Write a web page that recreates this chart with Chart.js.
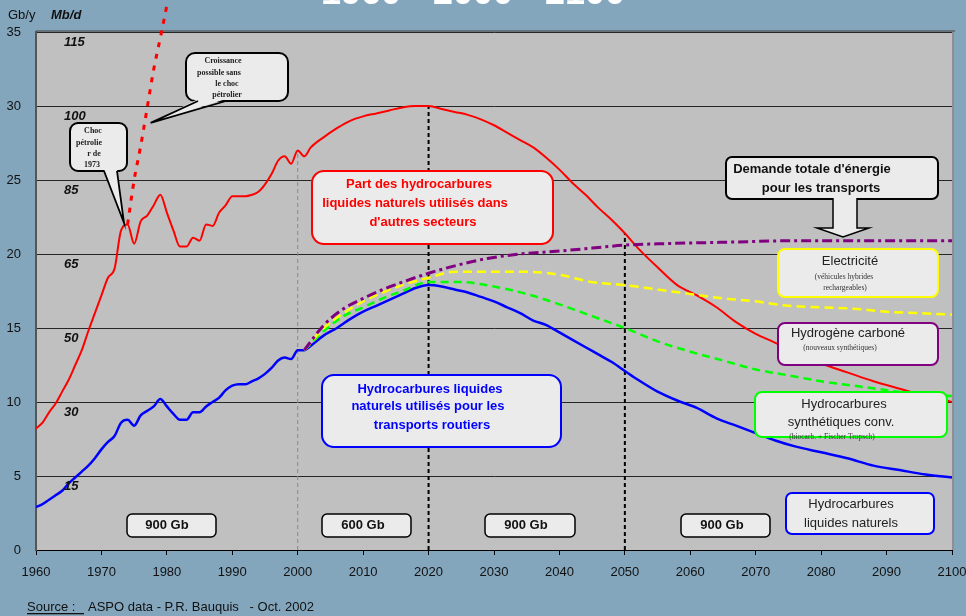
<!DOCTYPE html>
<html>
<head>
<meta charset="utf-8">
<script src="https://cdn.jsdelivr.net/npm/chart.js@4.4.0/dist/chart.umd.min.js"></script>
<style>
  html, body { margin: 0; padding: 0; background: #83a6bd; }
  canvas { display: block; }
</style>
</head>
<body>
<canvas id="chart" width="966" height="616"></canvas>
<script>
// Data (Gb per year)
const redYears = [1960,1961,1962,1963,1964,1965,1966,1967,1968,1969,1970,1971,1972,1973,1974,1975,1976,1977,1978,1979,
  1980,1981,1982,1983,1984,1985,1986,1987,1988,1989,1990,1991,1992,1993,1994,1995,1996,1997,1998,1999,2000,2001,
  2002,2004,2006,2008,2010,2012,2014,2016,2018,2020,2022,2024,2026,2028,2030,2032,2034,2036,2038,2040,2042,2044,
  2046,2048,2050,2052,2055,2058,2061,2064,2067,2070,2073,2076,2080,2084,2088,2092,2096,2100];
const redValues = [8.2,8.6,9.3,9.9,10.7,11.5,12.5,13.5,14.8,16.0,17.2,18.4,19.0,21.6,22.0,20.7,22.2,22.6,23.3,24.0,
  22.8,21.6,20.5,20.5,21.1,20.9,22.0,21.9,22.8,23.3,23.9,23.9,23.9,24.0,24.2,24.7,25.4,26.3,26.6,26.1,27.0,26.6,
  27.2,27.9,28.5,29.0,29.3,29.5,29.7,29.9,30.0,30.0,29.8,29.6,29.4,29.1,28.7,28.2,27.7,27.2,26.5,25.7,24.8,24.0,
  23.1,22.3,21.4,20.4,19.1,17.9,17.2,16.4,15.4,14.6,14.0,13.3,12.6,12.0,11.4,10.9,10.4,10.0];

const blueYears = [1960,1961,1962,1963,1964,1965,1966,1967,1968,1969,1970,1971,1972,1973,1974,1975,1976,1977,1978,1979,
  1980,1981,1982,1983,1984,1985,1986,1987,1988,1989,1990,1991,1992,1993,1994,1995,1996,1997,1998,1999,2000,2001,
  2002,2004,2006,2008,2010,2012,2014,2016,2018,2020,2022,2024,2026,2028,2030,2032,2034,2036,2038,2040,2042,2044,
  2046,2048,2050,2052,2055,2058,2061,2064,2067,2070,2073,2076,2080,2084,2088,2092,2096,2100];
const blueValues = [2.9,3.1,3.4,3.7,4.0,4.5,4.9,5.3,5.7,6.2,6.8,7.3,7.7,8.6,8.8,8.4,9.1,9.4,9.7,10.2,
  9.7,9.2,8.8,8.8,9.3,9.3,9.7,10.0,10.3,10.8,11.1,11.2,11.2,11.4,11.6,11.9,12.3,12.8,13.0,12.9,13.5,13.5,
  13.8,14.5,15.0,15.6,16.1,16.5,16.9,17.3,17.7,17.9,17.8,17.6,17.4,17.1,16.8,16.4,16.0,15.5,15.2,14.7,14.2,13.7,
  13.2,12.7,12.1,11.5,10.7,10.1,9.6,8.9,8.4,7.9,7.4,7.0,6.6,6.2,5.7,5.4,5.1,4.9];

const greenYears = [2001,2004,2007,2010,2013,2016,2020,2025,2030,2035,2040,2045,2050,2055,2060,2065,2070,2075,2080,2085,2090,2095,2100];
const greenValues = [13.5,14.8,15.8,16.4,17.0,17.5,18.1,18.1,17.8,17.3,16.6,15.8,15.0,14.1,13.4,12.8,12.2,11.8,11.4,11.1,10.8,10.5,10.4];

const yellowYears = [2001,2004,2007,2010,2013,2016,2020,2024,2030,2035,2040,2045,2050,2055,2060,2065,2070,2075,2080,2085,2090,2095,2100];
const yellowValues = [13.5,15.0,16.0,16.8,17.4,17.9,18.4,18.8,18.8,18.8,18.6,18.1,17.9,17.6,17.3,17.0,16.8,16.5,16.4,16.3,16.1,16.0,15.9];

const purpleYears = [2001,2004,2007,2010,2013,2016,2020,2024,2029,2034,2040,2045,2050,2056,2066,2076,2100];
const purpleValues = [13.5,15.2,16.3,17.0,17.6,18.1,18.7,19.2,19.7,20.0,20.2,20.4,20.6,20.7,20.8,20.9,20.9];

// "Croissance possible sans le choc pétrolier"
const growthYears = [1974,1975,1976,1977,1978,1979,1980];
const growthValues = [22.0,25.0,27.3,29.9,32.5,34.6,36.8];

const markerYears = [2000, 2020, 2050];
const mbdLabels = ['115','100','85','65','50','30','15'];
const mbdAtGb = [35,30,25,20,15,10,5];

const SANS = "'Liberation Sans', Arial, sans-serif";
const SERIF = "'Liberation Serif', 'Times New Roman', serif";

Chart.defaults.font.family = SANS;
Chart.defaults.font.size = 13;
Chart.defaults.color = '#111';

function pts(xs, ys) {
  return xs.map((x, i) => ({ x: x, y: ys[i] }));
}

function valueAt(xs, ys, yr) {
  for (let i = 1; i < xs.length; i++) {
    if (yr <= xs[i]) {
      const t = (yr - xs[i - 1]) / (xs[i] - xs[i - 1]);
      return ys[i - 1] + t * (ys[i] - ys[i - 1]);
    }
  }
  return ys[ys.length - 1];
}

function roundRect(ctx, x, y, w, h, r) {
  ctx.beginPath();
  ctx.moveTo(x + r, y);
  ctx.arcTo(x + w, y, x + w, y + h, r);
  ctx.arcTo(x + w, y + h, x, y + h, r);
  ctx.arcTo(x, y + h, x, y, r);
  ctx.arcTo(x, y, x + w, y, r);
  ctx.closePath();
}

function text(ctx, s, cx, cy, font, color) {
  ctx.font = font;
  ctx.fillStyle = color;
  ctx.textAlign = 'center';
  ctx.textBaseline = 'middle';
  ctx.fillText(s, cx, cy);
}

// annotation boxes (layout only)
const BOX_FILL = '#ebebeb';
const boxes = [
  { x: 312, y: 171, w: 241, h: 73, r: 12, border: '#ff0000', lw: 2, lines: [
    ['Part des hydrocarbures', 419, 184, 'bold 13px ' + SANS, '#ff0000'],
    ['liquides naturels utilisés dans', 415, 203, 'bold 13px ' + SANS, '#ff0000'],
    ["d'autres secteurs", 423, 222, 'bold 13px ' + SANS, '#ff0000']] },
  { x: 322, y: 375, w: 239, h: 72, r: 12, border: '#0000ff', lw: 2, lines: [
    ['Hydrocarbures liquides', 430, 389, 'bold 13px ' + SANS, '#0000ff'],
    ['naturels utilisés pour les', 428, 406, 'bold 13px ' + SANS, '#0000ff'],
    ['transports routiers', 432, 425, 'bold 13px ' + SANS, '#0000ff']] },
  { x: 726, y: 157, w: 212, h: 42, r: 6, border: '#000', lw: 2, lines: [
    ["Demande totale d'énergie", 812, 169, 'bold 13px ' + SANS, '#111'],
    ['pour les transports', 821, 188, 'bold 13px ' + SANS, '#111']] },
  { x: 778, y: 249, w: 160, h: 48, r: 7, border: '#ffff00', lw: 2, lines: [
    ['Electricité', 850, 261, '13px ' + SANS, '#222'],
    ['(véhicules hybrides', 844, 277, '7.5px ' + SERIF, '#333'],
    ['rechargeables)', 845, 288, '7.5px ' + SERIF, '#333']] },
  { x: 778, y: 323, w: 160, h: 42, r: 7, border: '#800080', lw: 2, lines: [
    ['Hydrogène carboné', 848, 333, '13px ' + SANS, '#222'],
    ['(nouveaux synthétiques)', 840, 348, '7.5px ' + SERIF, '#333']] },
  { x: 755, y: 392, w: 192, h: 45, r: 7, border: '#00ff00', lw: 2, lines: [
    ['Hydrocarbures', 844, 404, '13px ' + SANS, '#222'],
    ['synthétiques conv.', 841, 422, '13px ' + SANS, '#222'],
    ['(biocarb. + Fischer Tropsch)', 832, 437, '7.5px ' + SERIF, '#333']] },
  { x: 786, y: 493, w: 148, h: 41, r: 6, border: '#0000ff', lw: 2, lines: [
    ['Hydrocarbures', 851, 504, '13px ' + SANS, '#222'],
    ['liquides naturels', 851, 523, '13px ' + SANS, '#222']] },
  { x: 127, y: 514, w: 89, h: 23, r: 5, border: '#000', lw: 1.5, lines: [['900 Gb', 167, 525, 'bold 13px ' + SANS, '#111']] },
  { x: 322, y: 514, w: 89, h: 23, r: 5, border: '#000', lw: 1.5, lines: [['600 Gb', 363, 525, 'bold 13px ' + SANS, '#111']] },
  { x: 485, y: 514, w: 90, h: 23, r: 5, border: '#000', lw: 1.5, lines: [['900 Gb', 526, 525, 'bold 13px ' + SANS, '#111']] },
  { x: 681, y: 514, w: 89, h: 23, r: 5, border: '#000', lw: 1.5, lines: [['900 Gb', 722, 525, 'bold 13px ' + SANS, '#111']] }
];

// speech-bubble callouts: box + tail pointing next to a year on the red curves
const callouts = [
  { x: 70, y: 123, w: 57, h: 48, r: 8, tail: [104, 117], tipYear: 1973.6, tipSeries: 'red', dx: -1, dy: -4, lines: [
    ['Choc', 93, 131], ['pétrolie', 89, 143], ['r de', 94, 154], ['1973', 92, 165]] },
  { x: 186, y: 53, w: 102, h: 48, r: 9, tail: [198, 226], tipYear: 1976.6, tipSeries: 'growth', dx: 6, dy: 0, lines: [
    ['Croissance', 223, 61], ['possible sans', 219, 73], ['le choc', 227, 84], ['pétrolier', 227, 95]] }
];

const backdrop = {
  id: 'backdrop',
  beforeDraw(chart) {
    const { ctx, chartArea: a } = chart;
    ctx.save();
    ctx.fillStyle = '#83a6bd';
    ctx.fillRect(0, 0, chart.width, chart.height);
    // title, cut off at the top of the picture
    ctx.font = 'bold 36px ' + SANS;
    ctx.fillStyle = '#ffffff';
    ctx.textAlign = 'center';
    ctx.textBaseline = 'alphabetic';
    ctx.fillText('1960 - 2000 - 2100', 473, 4);
    ctx.fillStyle = '#c0c0c0';
    ctx.fillRect(a.left, a.top, a.right - a.left, a.bottom - a.top);
    ctx.fillStyle = '#66737d';
    ctx.fillRect(a.left, a.top - 2, a.right - a.left + 3, 2);
    ctx.fillStyle = '#8f8f8f';
    ctx.fillRect(a.right, a.top, 2, a.bottom - a.top);
    ctx.restore();
  },
  beforeDatasetsDraw(chart) {
    const { ctx, scales: { x, y } } = chart;
    ctx.save();
    markerYears.forEach((yr, i) => {
      const px = x.getPixelForValue(yr);
      const top = y.getPixelForValue(valueAt(redYears, redValues, yr));
      ctx.beginPath();
      if (i === 0) {
        ctx.strokeStyle = '#888';
        ctx.lineWidth = 1;
        ctx.setLineDash([4, 3]);
      } else {
        ctx.strokeStyle = '#000';
        ctx.lineWidth = 2;
        ctx.setLineDash([4, 3]);
      }
      ctx.moveTo(px, y.getPixelForValue(0));
      ctx.lineTo(px, top);
      ctx.stroke();
    });
    ctx.restore();
  },
  afterDatasetsDraw(chart) {
    const { ctx, scales: { x, y } } = chart;
    ctx.save();
    ctx.setLineDash([]);

    boxes.forEach(b => {
      roundRect(ctx, b.x, b.y, b.w, b.h, b.r);
      ctx.fillStyle = BOX_FILL;
      ctx.fill();
      ctx.lineWidth = b.lw;
      ctx.strokeStyle = b.border;
      ctx.stroke();
      b.lines.forEach(l => text(ctx, l[0], l[1], l[2], l[3], l[4]));
    });

    // arrow under "Demande totale"
    ctx.beginPath();
    ctx.moveTo(833, 198);
    ctx.lineTo(833, 228);
    ctx.lineTo(817, 228);
    ctx.lineTo(843, 237);
    ctx.lineTo(869, 228);
    ctx.lineTo(857, 228);
    ctx.lineTo(857, 198);
    ctx.fillStyle = BOX_FILL;
    ctx.fill();
    ctx.lineWidth = 1.5;
    ctx.strokeStyle = '#000';
    ctx.stroke();

    callouts.forEach(c => {
      const src = c.tipSeries === 'red' ? [redYears, redValues] : [growthYears, growthValues];
      const tx = x.getPixelForValue(c.tipYear) + c.dx;
      const ty = y.getPixelForValue(valueAt(src[0], src[1], c.tipYear)) + c.dy;
      const by = c.y + c.h;
      roundRect(ctx, c.x, c.y, c.w, c.h, c.r);
      ctx.fillStyle = BOX_FILL;
      ctx.fill();
      ctx.lineWidth = 2;
      ctx.strokeStyle = '#000';
      ctx.stroke();
      ctx.beginPath();
      ctx.moveTo(c.tail[0], by - 2);
      ctx.lineTo(tx, ty);
      ctx.lineTo(c.tail[1], by - 2);
      ctx.closePath();
      ctx.fillStyle = BOX_FILL;
      ctx.fill();
      ctx.beginPath();
      ctx.moveTo(c.tail[0], by);
      ctx.lineTo(tx, ty);
      ctx.lineTo(c.tail[1], by);
      ctx.lineWidth = 1.8;
      ctx.stroke();
      c.lines.forEach(l => text(ctx, l[0], l[1], l[2], 'bold 8px ' + SERIF, '#222'));
    });
    ctx.restore();
  },
  afterDraw(chart) {
    const { ctx, scales: { y } } = chart;
    ctx.save();
    ctx.textBaseline = 'middle';
    ctx.textAlign = 'left';
    ctx.fillStyle = '#111';
    ctx.font = '13px ' + SANS;
    ctx.fillText('Gb/y', 8, 15);
    ctx.font = 'italic bold 13px ' + SANS;
    ctx.fillText('Mb/d', 51, 15);
    mbdLabels.forEach((s, i) => {
      ctx.fillText(s, 64, y.getPixelForValue(mbdAtGb[i]) + 10);
    });
    // source line
    ctx.font = '13px ' + SANS;
    ctx.textBaseline = 'alphabetic';
    ctx.fillText('Source :', 27, 611);
    ctx.fillText('ASPO data - P.R. Bauquis   - Oct. 2002', 88, 611);
    ctx.fillRect(27, 613, 57, 1.3);
    ctx.restore();
  }
};

const ctx = document.getElementById('chart').getContext('2d');
const lineBase = { pointRadius: 0, cubicInterpolationMode: 'monotone', fill: false };

const chart = new Chart(ctx, {
  type: 'line',
  data: {
    datasets: [
      Object.assign({ label: 'Electricité', data: pts(purpleYears, purpleValues), borderColor: '#800080', borderWidth: 3, borderDash: [10, 4, 3, 4] }, lineBase),
      Object.assign({ label: 'Hydrogène carboné', data: pts(yellowYears, yellowValues), borderColor: '#ffff00', borderWidth: 2.5, borderDash: [9, 5] }, lineBase),
      Object.assign({ label: 'Hydrocarbures synthétiques', data: pts(greenYears, greenValues), borderColor: '#00ff00', borderWidth: 2.5, borderDash: [8, 5] }, lineBase),
      Object.assign({ label: 'Total', data: pts(redYears, redValues), borderColor: '#ff0000', borderWidth: 2 }, lineBase),
      Object.assign({ label: 'Transports routiers', data: pts(blueYears, blueValues), borderColor: '#0000ff', borderWidth: 2.5 }, lineBase),
      Object.assign({ label: 'Croissance possible', data: pts(growthYears, growthValues), borderColor: '#ff0000', borderWidth: 3, borderDash: [5, 7], clip: false }, lineBase)
    ]
  },
  options: {
    responsive: false,
    animation: false,
    layout: { padding: { top: 32, right: 14, left: 0, bottom: 0 } },
    plugins: {
      legend: { display: false },
      tooltip: { enabled: false }
    },
    scales: {
      x: {
        type: 'linear',
        min: 1960,
        max: 2100,
        ticks: { stepSize: 10, padding: 10, color: '#111', font: { size: 13 }, callback: v => String(v) },
        grid: { drawOnChartArea: false, drawTicks: true, tickLength: 5, color: '#000' },
        border: { color: '#000', width: 1 },
        afterFit: s => { s.height = 66; s.paddingLeft = 0; s.paddingRight = 0; }
      },
      y: {
        min: 0,
        max: 35,
        ticks: { stepSize: 5, padding: 15, color: '#111', font: { size: 13 } },
        grid: { color: '#262626', lineWidth: 1, drawTicks: false },
        border: { color: '#555', width: 2 },
        afterFit: s => { s.width = 36; s.paddingTop = 0; s.paddingBottom = 0; }
      }
    }
  },
  plugins: [backdrop]
});
</script>
</body>
</html>
